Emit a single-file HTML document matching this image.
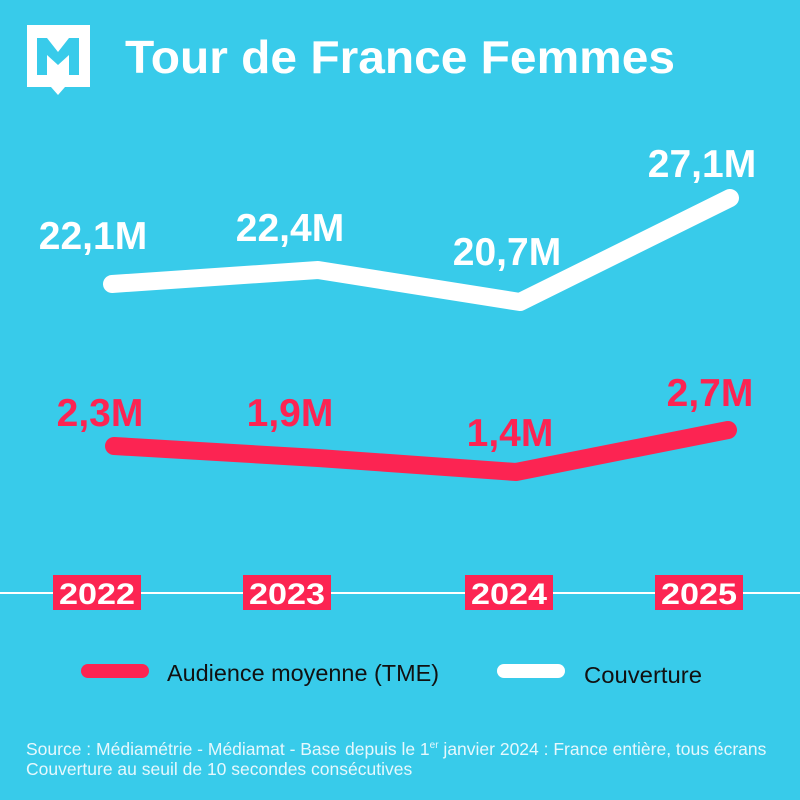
<!DOCTYPE html>
<html><head><meta charset="utf-8"><style>
body{margin:0;width:800px;height:800px;background:#38CBEA;overflow:hidden;font-family:"Liberation Sans",sans-serif}
</style></head><body>
<svg width="800" height="800" viewBox="0 0 800 800" xmlns="http://www.w3.org/2000/svg" style="position:absolute;left:0;top:0">
<rect x="0" y="0" width="800" height="800" fill="#38CBEA"/>
<path d="M27 25 H90 V87 H65 L58 95 L51 87 H27 Z" fill="#fff"/>
<path d="M37 38 H47 L58 52 L69 38 H79 V75 H69 V55 L58 65 L47 55 V75 H37 Z" fill="#38CBEA"/>
<text x="125" y="73" font-size="46" font-weight="bold" fill="#fff" textLength="550" lengthAdjust="spacingAndGlyphs">Tour de France Femmes</text>
<polyline points="112,284 318,270 520,302 730,198" fill="none" stroke="#fff" stroke-width="18" stroke-linecap="round" stroke-linejoin="round"/>
<polyline points="114,446 318,458 516,472 728,430" fill="none" stroke="#FC2452" stroke-width="18" stroke-linecap="round" stroke-linejoin="round"/>
<g font-size="39" font-weight="bold" text-anchor="middle">
<text x="93" y="249" fill="#fff">22,1M</text>
<text x="290" y="241" fill="#fff">22,4M</text>
<text x="507" y="265" fill="#fff">20,7M</text>
<text x="702" y="177" fill="#fff">27,1M</text>
<text x="100" y="426" fill="#FC2452">2,3M</text>
<text x="290" y="426" fill="#FC2452">1,9M</text>
<text x="510" y="446" fill="#FC2452">1,4M</text>
<text x="710" y="406" fill="#FC2452">2,7M</text>
</g>
<line x1="0" y1="593" x2="800" y2="593" stroke="#fff" stroke-width="2"/>
<g font-size="30" font-weight="bold" fill="#fff" text-anchor="middle">
<rect x="53" y="575" width="88" height="35" fill="#FC2452"/><text x="97" y="604" textLength="76" lengthAdjust="spacingAndGlyphs">2022</text>
<rect x="243" y="575" width="88" height="35" fill="#FC2452"/><text x="287" y="604" textLength="76" lengthAdjust="spacingAndGlyphs">2023</text>
<rect x="465" y="575" width="88" height="35" fill="#FC2452"/><text x="509" y="604" textLength="76" lengthAdjust="spacingAndGlyphs">2024</text>
<rect x="655" y="575" width="88" height="35" fill="#FC2452"/><text x="699" y="604" textLength="76" lengthAdjust="spacingAndGlyphs">2025</text>
</g>
<line x1="88" y1="671" x2="142" y2="671" stroke="#FC2452" stroke-width="14" stroke-linecap="round"/>
<line x1="504" y1="671" x2="558" y2="671" stroke="#fff" stroke-width="14" stroke-linecap="round"/>
<text x="167" y="681" font-size="23" fill="#111" textLength="272" lengthAdjust="spacingAndGlyphs">Audience moyenne (TME)</text>
<text x="584" y="683" font-size="23" fill="#111" textLength="118" lengthAdjust="spacingAndGlyphs">Couverture</text>
<g font-size="17.5" fill="#E6F8FD">
<text x="26" y="755">Source : Médiamétrie - Médiamat - Base depuis le 1<tspan font-size="10" dy="-7">er</tspan><tspan dy="7"> janvier 2024 : France entière, tous écrans</tspan></text>
<text x="26" y="775">Couverture au seuil de 10 secondes consécutives</text>
</g>
</svg>
</body></html>
